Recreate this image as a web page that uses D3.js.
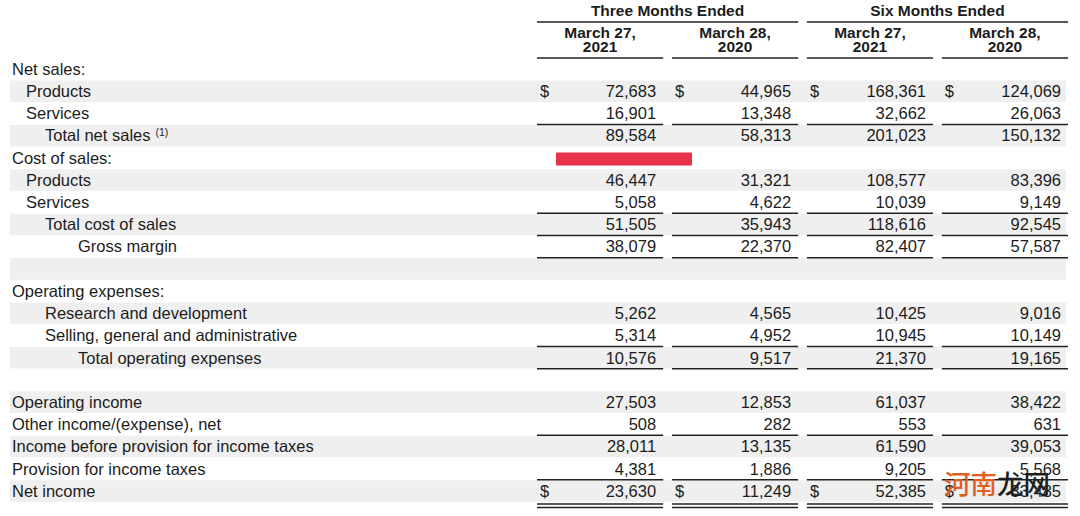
<!DOCTYPE html>
<html>
<head>
<meta charset="utf-8">
<script src="https://cdn.jsdelivr.net/npm/d3@7"></script>
<style>
  html, body { margin: 0; padding: 0; background: #ffffff; }
  svg { display: block; }
</style>
</head>
<body>
<svg id="chart" width="1080" height="516"></svg>
<script>
// ---- data ----
const periodGroups = ["Three Months Ended", "Six Months Ended"];
const columnKeys = ["q2021", "q2020", "h2021", "h2020"];
const columnDates = [["March 27,", "2021"], ["March 28,", "2020"], ["March 27,", "2021"], ["March 28,", "2020"]];

const rowLabels = [
  "Net sales:", "Products", "Services", "Total net sales",
  "Cost of sales:", "Products", "Services", "Total cost of sales", "Gross margin",
  "",
  "Operating expenses:", "Research and development", "Selling, general and administrative", "Total operating expenses",
  "",
  "Operating income", "Other income/(expense), net", "Income before provision for income taxes",
  "Provision for income taxes", "Net income"
];
const rowLevels = [0, 1, 1, 2, 0, 1, 1, 2, 3, 0, 0, 2, 2, 3, 0, 0, 0, 0, 0, 0];

const q2021 = [null, 72683, 16901, 89584, null, 46447, 5058, 51505, 38079, null, null, 5262, 5314, 10576, null, 27503, 508, 28011, 4381, 23630];
const q2020 = [null, 44965, 13348, 58313, null, 31321, 4622, 35943, 22370, null, null, 4565, 4952, 9517, null, 12853, 282, 13135, 1886, 11249];
const h2021 = [null, 168361, 32662, 201023, null, 108577, 10039, 118616, 82407, null, null, 10425, 10945, 21370, null, 61037, 553, 61590, 9205, 52385];
const h2020 = [null, 124069, 26063, 150132, null, 83396, 9149, 92545, 57587, null, null, 9016, 10149, 19165, null, 38422, 631, 39053, 5568, 33485];

const shadedRows = [1, 3, 5, 7, 9, 11, 13, 15, 17, 19];
const dollarRows = [1, 19];
const singleRuleRows = [2, 6, 7, 8, 12, 13, 16, 18];
const doubleRuleRows = [19];
const footnoteRows = { 3: "(1)" };
const watermark = [["河南", "#e2601f"], ["龙网", "#1e1e1e"]];

// ---- drawing ----
const series = { q2021, q2020, h2021, h2020 };
const svg = d3.select("#chart");
const font = "'Liberation Sans', Arial, Helvetica, sans-serif";
const ink = "#1c1c1c";

const y = d3.scaleLinear().domain([0, rowLabels.length - 1]).range([69, 491]);
const x = d3.scaleBand().domain(columnKeys).range([537, 1068]).paddingInner(0.065);
const rowH = 21.5;
const indent = d3.scaleOrdinal().domain([0, 1, 2, 3]).range([12, 26, 45, 78]);
const fmt = d3.format(",");

// shaded bands
svg.append("g").selectAll("rect").data(shadedRows).join("rect")
  .attr("x", 10).attr("width", 1066 - 10)
  .attr("y", d => y(d) - rowH / 2).attr("height", rowH)
  .attr("fill", "#efefef");

// column headers
const groups = svg.append("g");
periodGroups.forEach((g, i) => {
  const c0 = columnKeys[i * 2], c1 = columnKeys[i * 2 + 1];
  const xa = x(c0), xb = x(c1) + x.bandwidth();
  groups.append("text").attr("x", (xa + xb) / 2).attr("y", 11).attr("dy", "0.35em")
    .attr("text-anchor", "middle").attr("font-family", font).attr("font-weight", "bold")
    .attr("font-size", 15.5).attr("fill", ink).text(g);
  groups.append("line").attr("x1", xa).attr("x2", xb).attr("y1", 22).attr("y2", 22)
    .attr("stroke", "#222").attr("stroke-width", 1.6);
});
columnKeys.forEach((k, i) => {
  const cx = x(k) + x.bandwidth() / 2;
  columnDates[i].forEach((t, j) => {
    groups.append("text").attr("x", cx).attr("y", 33 + j * 14).attr("dy", "0.35em")
      .attr("text-anchor", "middle").attr("font-family", font).attr("font-weight", "bold")
      .attr("font-size", 15.5).attr("fill", ink).text(t);
  });
  groups.append("line").attr("x1", x(k)).attr("x2", x(k) + x.bandwidth()).attr("y1", 58).attr("y2", 58)
    .attr("stroke", "#222").attr("stroke-width", 1.6);
});

// row labels
const labels = svg.append("g").selectAll("text").data(rowLabels.map((t, i) => ({ t, i })).filter(d => d.t))
  .join("text")
  .attr("x", d => indent(rowLevels[d.i])).attr("y", d => y(d.i)).attr("dy", "0.35em")
  .attr("font-family", font).attr("font-size", 16.5).attr("fill", ink)
  .text(d => d.t);
labels.filter(d => footnoteRows[d.i]).append("tspan")
  .attr("font-size", 10.5).attr("dx", 5).attr("dy", "-0.55em").text(d => footnoteRows[d.i]);

// values
const cells = svg.append("g");
columnKeys.forEach(k => {
  const vals = series[k];
  cells.append("g").selectAll("text").data(vals.map((v, i) => ({ v, i })).filter(d => d.v != null))
    .join("text")
    .attr("x", x(k) + x.bandwidth() - 7).attr("y", d => y(d.i)).attr("dy", "0.35em")
    .attr("text-anchor", "end").attr("font-family", font).attr("font-size", 16.5).attr("fill", ink)
    .text(d => fmt(d.v));
  cells.append("g").selectAll("text").data(dollarRows).join("text")
    .attr("x", x(k) + 3).attr("y", d => y(d)).attr("dy", "0.35em")
    .attr("font-family", font).attr("font-size", 16.5).attr("fill", ink).text("$");
  cells.append("g").selectAll("line").data(singleRuleRows).join("line")
    .attr("x1", x(k)).attr("x2", x(k) + x.bandwidth())
    .attr("y1", d => y(d) + 11).attr("y2", d => y(d) + 11)
    .attr("stroke", "#222").attr("stroke-width", 1.5);
  doubleRuleRows.forEach(r => {
    [13, 16.5].forEach(off => {
      cells.append("line").attr("x1", x(k)).attr("x2", x(k) + x.bandwidth())
        .attr("y1", y(r) + off).attr("y2", y(r) + off)
        .attr("stroke", "#222").attr("stroke-width", 1.5);
    });
  });
});

// red highlight mark
svg.append("rect").attr("x", 556).attr("y", 152.5).attr("width", 136).attr("height", 13)
  .attr("fill", "#e6324b");

// watermark
const wm = svg.append("text").attr("x", 944).attr("y", 494)
  .attr("font-family", "'Noto Sans CJK SC', sans-serif").attr("font-size", 26.5).attr("font-weight", 500);
watermark.forEach(([t, c]) => wm.append("tspan").attr("fill", c).text(t));
</script>
</body>
</html>
